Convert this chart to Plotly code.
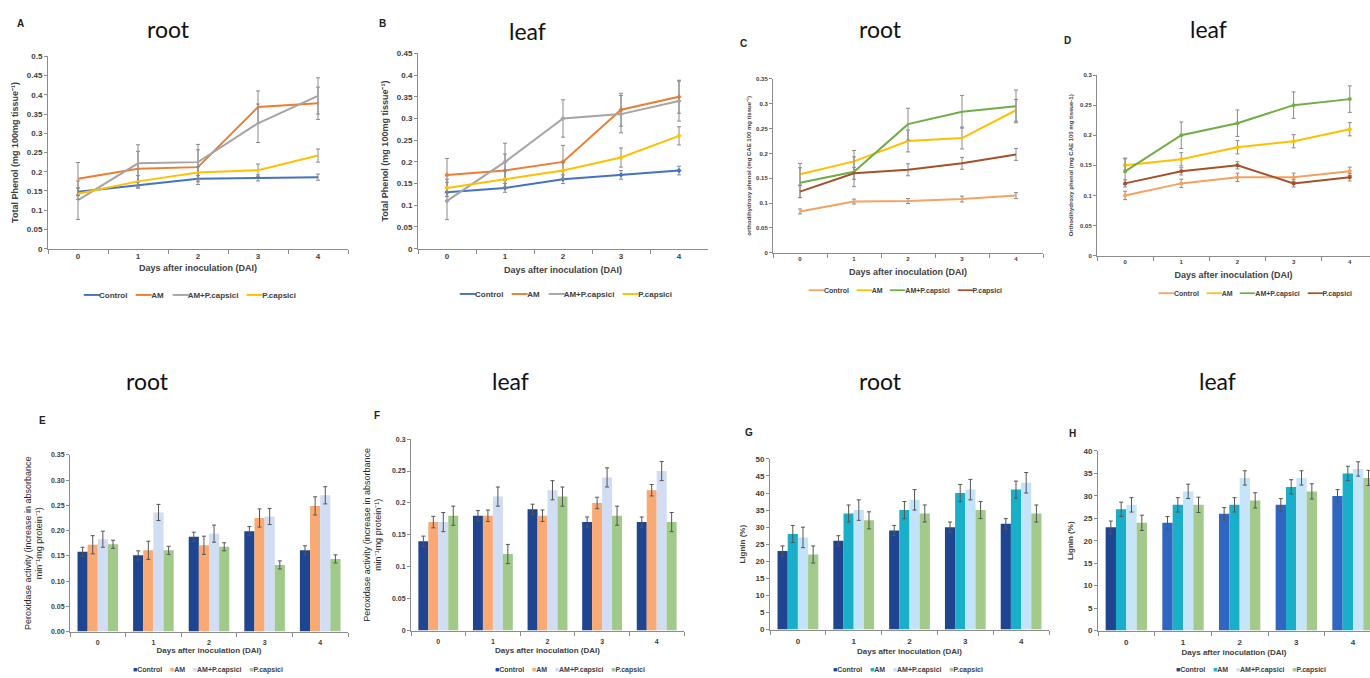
import plotly.graph_objects as go

W, H = 1370, 678
days = ["0", "1", "2", "3", "4"]
series_names = ["Control", "AM", "AM+P.capsici", "P.capsici"]

# ---- Panel A: total phenol, root ----
a_control = [0.148, 0.165, 0.182, 0.184, 0.186]
a_am = [0.182, 0.208, 0.212, 0.368, 0.378]
a_am_pc = [0.126, 0.222, 0.225, 0.326, 0.397]
a_pc = [0.143, 0.175, 0.198, 0.204, 0.242]
a_control_err = [0.010, 0.008, 0.008, 0.008, 0.008]
a_am_err = [0.042, 0.045, 0.045, 0.042, 0.042]
a_am_pc_err = [0.050, 0.048, 0.046, 0.050, 0.047]
a_pc_err = [0.015, 0.015, 0.015, 0.016, 0.017]

# ---- Panel B: total phenol, leaf ----
b_control = [0.13, 0.14, 0.16, 0.17, 0.18]
b_am = [0.17, 0.18, 0.20, 0.32, 0.35]
b_am_pc = [0.11, 0.20, 0.30, 0.31, 0.34]
b_pc = [0.14, 0.16, 0.18, 0.21, 0.26]
b_control_err = [0.010, 0.010, 0.010, 0.010, 0.010]
b_am_err = [0.038, 0.038, 0.038, 0.038, 0.038]
b_am_pc_err = [0.043, 0.043, 0.043, 0.043, 0.046]
b_pc_err = [0.020, 0.020, 0.020, 0.022, 0.021]

# ---- Panel C: orthodihydroxy phenol, root ----
c_control = [0.083, 0.103, 0.104, 0.108, 0.115]
c_am = [0.158, 0.184, 0.225, 0.231, 0.287]
c_am_pc = [0.141, 0.163, 0.259, 0.284, 0.295]
c_pc = [0.123, 0.160, 0.167, 0.180, 0.198]
c_control_err = [0.005, 0.005, 0.005, 0.006, 0.006]
c_am_err = [0.022, 0.022, 0.022, 0.022, 0.022]
c_am_pc_err = [0.030, 0.030, 0.032, 0.033, 0.033]
c_pc_err = [0.012, 0.012, 0.012, 0.012, 0.012]

# ---- Panel D: orthodihydroxy phenol, leaf ----
d_control = [0.10, 0.12, 0.13, 0.13, 0.14]
d_am = [0.15, 0.16, 0.18, 0.19, 0.21]
d_am_pc = [0.14, 0.20, 0.22, 0.25, 0.26]
d_pc = [0.12, 0.14, 0.15, 0.12, 0.13]
d_control_err = [0.007, 0.007, 0.007, 0.007, 0.007]
d_am_err = [0.011, 0.011, 0.011, 0.011, 0.011]
d_am_pc_err = [0.022, 0.022, 0.022, 0.022, 0.022]
d_pc_err = [0.006, 0.006, 0.006, 0.006, 0.006]

# ---- Panel E: peroxidase, root ----
e_control = [0.158, 0.151, 0.188, 0.199, 0.161]
e_am = [0.172, 0.161, 0.171, 0.225, 0.249]
e_am_pc = [0.183, 0.236, 0.194, 0.228, 0.270]
e_pc = [0.173, 0.161, 0.168, 0.132, 0.144]
e_control_err = [0.009, 0.009, 0.009, 0.009, 0.009]
e_am_err = [0.018, 0.018, 0.018, 0.018, 0.018]
e_am_pc_err = [0.016, 0.016, 0.017, 0.016, 0.017]
e_pc_err = [0.008, 0.008, 0.008, 0.008, 0.008]

# ---- Panel F: peroxidase, leaf ----
f_control = [0.14, 0.18, 0.19, 0.17, 0.17]
f_am = [0.17, 0.18, 0.18, 0.20, 0.22]
f_am_pc = [0.17, 0.21, 0.22, 0.24, 0.25]
f_pc = [0.18, 0.12, 0.21, 0.18, 0.17]
f_control_err = [0.008, 0.008, 0.008, 0.008, 0.008]
f_am_err = [0.009, 0.009, 0.009, 0.009, 0.009]
f_am_pc_err = [0.015, 0.015, 0.015, 0.015, 0.015]
f_pc_err = [0.015, 0.015, 0.015, 0.015, 0.015]

# ---- Panel G: lignin, root ----
g_control = [23, 26, 29, 30, 31]
g_am = [28, 34, 35, 40, 41]
g_am_pc = [27, 35, 38, 41, 43]
g_pc = [22, 32, 34, 35, 34]
g_control_err = [1.5, 1.5, 1.5, 1.5, 1.5]
g_am_err = [2.5, 2.5, 2.5, 2.5, 2.5]
g_am_pc_err = [3.0, 3.0, 3.0, 3.0, 3.0]
g_pc_err = [2.5, 2.5, 2.5, 2.5, 2.5]

# ---- Panel H: lignin, leaf ----
h_control = [23, 24, 26, 28, 30]
h_am = [27, 28, 28, 32, 35]
h_am_pc = [28, 31, 34, 34, 36]
h_pc = [24, 28, 29, 31, 34]
h_control_err = [1.4, 1.4, 1.4, 1.4, 1.4]
h_am_err = [1.6, 1.6, 1.6, 1.6, 1.6]
h_am_pc_err = [1.6, 1.6, 1.6, 1.6, 1.6]
h_pc_err = [1.7, 1.7, 1.7, 1.7, 1.7]

# ---- colours ----
line_colors_ab = ["#4472C4", "#ED7D31", "#A5A5A5", "#FFC000"]
line_colors_cd = ["#F4A261", "#FFC000", "#70AD47", "#A5502A"]
bar_colors_ef = ["#1F4591", "#F9AA74", "#D0DDF2", "#A0C98A"]
bar_colors_g = ["#1F4591", "#1AAFC9", "#C3E3F8", "#A3C98B"]
bar_colors_h = [["#1F4591", "#2F66C1", "#2F66C1", "#2F66C1", "#2F66C1"], "#1AAFC9", "#C6E5F8", "#A3C98B"]

FONT = "Liberation Sans"
AXIS_COLOR = "#8c8c8c"
TEXT_COLOR = "#404040"

fig = go.Figure()


def dom_x(a, b):
    return [a / W, b / W]


def dom_y(top, bottom):
    return [1 - bottom / H, 1 - top / H]


def add_panel(n, kind, values, errors, colors, box, xrange, yrange, dtick, tickfmt,
              tick_size, ytitle, ytitle_size, xtitle_size, ystand, xstand, marker=None,
              yweight="bold", ytitle_color=TEXT_COLOR, label_shift=0):
    xa = "x" if n == 1 else f"x{n}"
    ya = "y" if n == 1 else f"y{n}"
    for i, name in enumerate(series_names):
        if kind == "line":
            fig.add_trace(go.Scatter(
                x=days, y=values[i], name=name,
                mode="lines+markers" if marker else "lines",
                line=dict(color=colors[i], width=2),
                marker=dict(symbol=marker or "circle", size=4, color=colors[i]),
                error_y=dict(type="data", array=errors[i], color="#8a8a8a", thickness=1, width=2),
                xaxis=xa, yaxis=ya, showlegend=False, cliponaxis=False))
        else:
            fig.add_trace(go.Bar(
                x=days, y=values[i], name=name,
                marker=dict(color=colors[i], line=dict(width=0)),
                error_y=dict(type="data", array=errors[i], color="#555555", thickness=1, width=2),
                xaxis=xa, yaxis=ya, showlegend=False))
    tf = dict(family=FONT, size=tick_size, color=TEXT_COLOR, weight="bold")
    fig.update_layout(**{
        ("xaxis" if n == 1 else f"xaxis{n}"): dict(
            domain=dom_x(box[0], box[1]), anchor=ya, type="category", range=xrange,
            tickson="boundaries", ticks="outside", ticklen=4, tickcolor=AXIS_COLOR,
            ticklabelstandoff=label_shift,
            showline=True, linecolor=AXIS_COLOR, linewidth=1, showgrid=False, zeroline=False,
            tickfont=tf,
            title=dict(text="Days after inoculation (DAI)", standoff=xstand,
                       font=dict(family=FONT, size=xtitle_size, color=TEXT_COLOR, weight="bold"))),
        ("yaxis" if n == 1 else f"yaxis{n}"): dict(
            domain=dom_y(box[2], box[3]), anchor=xa, range=yrange, dtick=dtick, tick0=0,
            tickformat=tickfmt, ticks="outside", ticklen=3, tickcolor=AXIS_COLOR,
            showline=True, linecolor=AXIS_COLOR, linewidth=1, showgrid=False, zeroline=False,
            tickfont=tf,
            title=dict(text=ytitle, standoff=ystand,
                       font=dict(family=FONT, size=ytitle_size, color=ytitle_color, weight=yweight))),
    })


add_panel(1, "line", [a_control, a_am, a_am_pc, a_pc], [a_control_err, a_am_err, a_am_pc_err, a_pc_err],
          line_colors_ab, (48, 348, 53, 248), [-0.5, 4.5], [0, 0.5], 0.05, None, 8,
          "Total Phenol (mg 100mg tissue⁻¹)", 9, 9, 6, 4)
add_panel(2, "line", [b_control, b_am, b_am_pc, b_pc], [b_control_err, b_am_err, b_am_pc_err, b_pc_err],
          line_colors_ab, (418, 708, 50, 248), [-0.5, 4.5], [0, 0.45], 0.05, None, 8,
          "Total Phenol (mg 100mg tissue⁻¹)", 9, 9, 6, 6, marker="diamond")
add_panel(3, "line", [c_control, c_am, c_am_pc, c_pc], [c_control_err, c_am_err, c_am_pc_err, c_pc_err],
          line_colors_cd, (773, 1043, 76, 252), [-0.5, 4.5], [0, 0.35], 0.05, None, 6,
          "orthodihydroxy phenol (mg CAE 100 mg tissue⁻¹)", 6, 9, 4, 7)
add_panel(4, "line", [d_control, d_am, d_am_pc, d_pc], [d_control_err, d_am_err, d_am_pc_err, d_pc_err],
          line_colors_cd, (1097, 1370, 72, 255), [-0.5, 4.36], [0, 0.3], 0.05, None, 6,
          "Orthodihydroxy phenol (mg CAE 100 mg tissue-1)", 6, 9, 6, 7, marker="circle")
add_panel(5, "bar", [e_control, e_am, e_am_pc, e_pc], [e_control_err, e_am_err, e_am_pc_err, e_pc_err],
          bar_colors_ef, (70, 348, 457, 636), [-0.5, 4.5], [0, 0.35], 0.05, ".2f", 7,
          "Peroxidase activity (increase in absorbance<br>min⁻¹mg protein⁻¹)", 9, 8, 6, 1,
          yweight="normal", ytitle_color="#2a2a2a", label_shift=4)
add_panel(6, "bar", [f_control, f_am, f_am_pc, f_pc], [f_control_err, f_am_err, f_am_pc_err, f_pc_err],
          bar_colors_ef, (411, 684, 441, 635), [-0.5, 4.5], [0, 0.3], 0.05, None, 7,
          "Peroxidase activity (increase in absorbance<br>min⁻¹mg protein⁻¹)", 9, 8, 8, 3,
          yweight="normal", ytitle_color="#2a2a2a", label_shift=4)
add_panel(7, "bar", [g_control, g_am, g_am_pc, g_pc], [g_control_err, g_am_err, g_am_pc_err, g_pc_err],
          bar_colors_g, (770, 1049, 461, 634), [-0.5, 4.5], [0, 50], 5, None, 8,
          "Lignin (%)", 8, 8, 8, 3, label_shift=4)
add_panel(8, "bar", [h_control, h_am, h_am_pc, h_pc], [h_control_err, h_am_err, h_am_pc_err, h_pc_err],
          bar_colors_h, (1098, 1370, 453, 635), [-0.5, 4.3], [0, 40], 5, None, 8,
          "Lignin (%)", 8, 8, 8, 3, label_shift=4)

annotations = []

# panel titles
titles = [("root", 168, 28), ("leaf", 527, 30), ("root", 880, 28), ("leaf", 1208, 28),
          ("root", 147, 385), ("leaf", 510, 385), ("root", 880, 385), ("leaf", 1217, 385)]
for t, x, y in titles:
    annotations.append(dict(text=t, x=x / W, y=1 - (y - 3) / H, xref="paper", yref="paper",
                            xanchor="center", yanchor="middle", showarrow=False,
                            font=dict(family="Lato", size=23, color="#111111")))

# panel letters
letters = [("A", 20, 20), ("B", 382, 20), ("C", 743, 40), ("D", 1067, 37),
           ("E", 42, 422), ("F", 377, 417), ("G", 749, 434), ("H", 1072, 435)]
for t, x, y in letters:
    annotations.append(dict(text=t, x=x / W, y=1 - y / H, xref="paper", yref="paper",
                            xanchor="center", yanchor="middle", showarrow=False,
                            font=dict(family=FONT, size=10, color="#222222", weight="bold")))


def legend_text(colors, glyph, size):
    parts = []
    for name, c in zip(series_names, colors):
        cc = c if isinstance(c, str) else c[0]
        parts.append(f'<span style="color:{cc};font-size:{size}px">{glyph}</span>{name}')
    return "    ".join(parts)


legends = [
    (legend_text(line_colors_ab, "━━━", 9), 189, 295, 8),
    (legend_text(line_colors_ab, "━━━", 9), 565, 294, 8),
    (legend_text(line_colors_cd, "━━━", 8), 905, 290, 7),
    (legend_text(line_colors_cd, "━━━", 8), 1255, 293, 7),
    (legend_text(bar_colors_ef, "■", 7), 208, 675, 7),
    (legend_text(bar_colors_ef, "■", 7), 570, 675, 7),
    (legend_text(bar_colors_g, "■", 7), 908, 675, 7),
    (legend_text(bar_colors_h, "■", 7), 1251, 675, 7),
]
for txt, x, y, s in legends:
    annotations.append(dict(text=txt, x=x / W, y=1 - y / H, xref="paper", yref="paper",
                            xanchor="center", yanchor="middle", showarrow=False,
                            font=dict(family=FONT, size=s, color=TEXT_COLOR, weight="bold")))

fig.update_layout(
    width=W, height=H, margin=dict(l=0, r=0, t=0, b=0),
    paper_bgcolor="white", plot_bgcolor="white",
    barmode="group", bargap=0.27, bargroupgap=0,
    showlegend=False, annotations=annotations,
    font=dict(family=FONT, color=TEXT_COLOR),
)

fig.write_html("out.html", config={"displayModeBar": False},
               post_script="document.body.style.margin='0';document.body.style.overflow='hidden';")
